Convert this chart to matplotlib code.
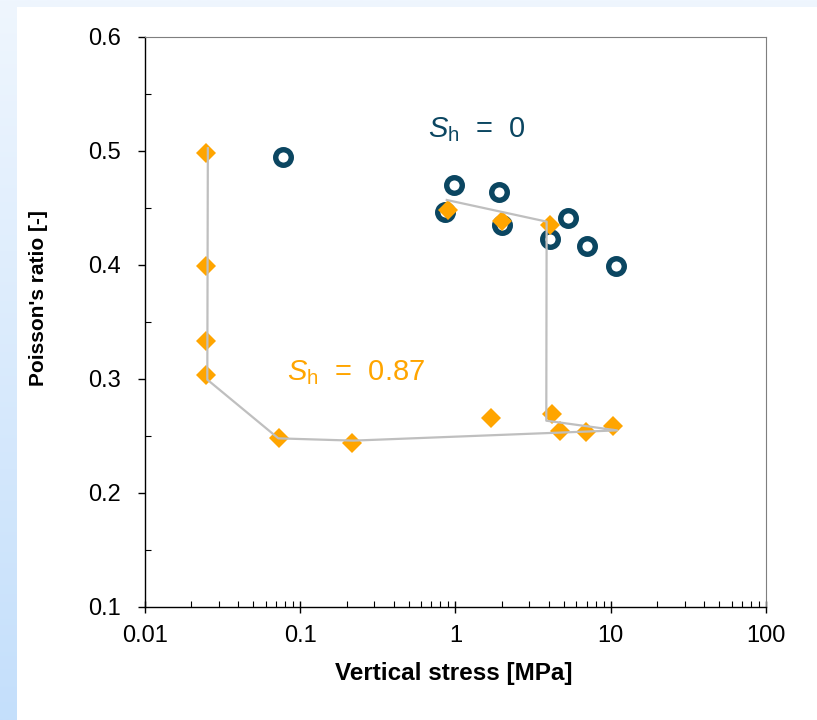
import numpy as np
import matplotlib
matplotlib.use("Agg")
import matplotlib.pyplot as plt
from matplotlib.patches import Rectangle
from matplotlib.ticker import LogLocator, FixedLocator, NullFormatter, FuncFormatter

plt.rcParams['font.family'] = ['Liberation Sans', 'DejaVu Sans']
plt.rcParams['mathtext.fontset'] = 'custom'
plt.rcParams['mathtext.rm'] = 'Liberation Sans'
plt.rcParams['mathtext.it'] = 'Liberation Sans:italic'

# Poisson's ratio vs vertical stress, Sh = 0 (open circles)
stress_sh0 = [0.078, 0.985, 1.92, 0.858, 1.99, 4.07, 5.29, 7.08, 10.8]
nu_sh0 = [0.494, 0.470, 0.464, 0.446, 0.435, 0.422, 0.441, 0.416, 0.399]

# Sh = 0.87 (filled diamonds)
stress_sh087 = [0.0248, 0.0248, 0.0248, 0.0248, 0.0736, 0.215, 1.70,
                0.902, 1.99, 4.07, 4.18, 4.72, 6.94, 10.3]
nu_sh087 = [0.4975, 0.399, 0.333, 0.303, 0.2475, 0.243, 0.265,
            0.448, 0.438, 0.435, 0.269, 0.254, 0.253, 0.258]

# Stress path for Sh = 0.87
path_stress = [0.0255, 0.0253, 0.0725, 0.22, 11.0, 3.85, 3.87, 0.88]
path_nu = [0.502, 0.299, 0.2475, 0.2455, 0.2545, 0.263, 0.4376, 0.4566]

x_ticks = [0.01, 0.1, 1, 10, 100]
x_tick_labels = ['0.01', '0.1', '1', '10', '100']
y_ticks = [0.1, 0.2, 0.3, 0.4, 0.5, 0.6]

navy = '#0b4661'
orange = '#ffa500'
grey = '#bfbfbf'

W, H = 817, 720
fig = plt.figure(figsize=(W / 100, H / 100), dpi=100)

# backdrop: pale blue gradient with a white panel
bg = fig.add_axes([0, 0, 1, 1], zorder=-10)
top_c = np.array([0xef, 0xf6, 0xfe]) / 255
bot_c = np.array([0xc4, 0xdf, 0xfb]) / 255
t = np.linspace(0, 1, 256)[:, None]
grad = top_c[None, :] * (1 - t) + bot_c[None, :] * t
bg.imshow(grad[:, None, :], aspect='auto', extent=[0, 1, 0, 1])
bg.add_patch(Rectangle((17 / W, 0), 1, 1 - 7 / H, color='white', lw=0))
bg.set_xlim(0, 1)
bg.set_ylim(0, 1)
bg.axis('off')

ax = fig.add_axes([144.7 / W, 1 - 606.5 / H, (766 - 144.7) / W, (606.5 - 36.5) / H])
ax.set_facecolor('none')

ax.plot(stress_sh0, nu_sh0, linestyle='none', marker='o', ms=11.2,
        mfc='none', mec=navy, mew=3.9, zorder=3)
ax.plot(stress_sh087, nu_sh087, linestyle='none', marker='D', ms=10,
        mfc=orange, mec='none', mew=0, zorder=4)
ax.plot(path_stress, path_nu, color=grey, lw=1.6, zorder=5)

ax.set_xscale('log')
ax.set_xlim(0.01, 100)
ax.set_ylim(0.1, 0.6)

ax.xaxis.set_major_locator(FixedLocator(x_ticks))
ax.xaxis.set_major_formatter(FuncFormatter(lambda v, p: x_tick_labels[x_ticks.index(v)] if v in x_ticks else ''))
ax.xaxis.set_minor_locator(LogLocator(base=10, subs=np.arange(2, 10)))
ax.xaxis.set_minor_formatter(NullFormatter())
ax.yaxis.set_major_locator(FixedLocator(y_ticks))
ax.yaxis.set_major_formatter(FuncFormatter(lambda v, p: f'{v:.1f}'))
ax.yaxis.set_minor_locator(FixedLocator([0.15, 0.25, 0.35, 0.45, 0.55]))

ax.tick_params(axis='x', which='major', direction='inout', length=9, width=1,
               labelsize=17, pad=9)
ax.tick_params(axis='x', which='minor', direction='in', length=4, width=0.8)
ax.tick_params(axis='y', which='major', direction='out', length=5, width=1,
               labelsize=17, pad=12)
ax.tick_params(axis='y', which='minor', direction='in', length=4, width=0.8)

for s in ('left', 'bottom'):
    ax.spines[s].set_color('black')
    ax.spines[s].set_linewidth(1.0)
for s in ('top', 'right'):
    ax.spines[s].set_color('#7f7f7f')
    ax.spines[s].set_linewidth(0.8)

ax.set_xlabel('Vertical stress [MPa]', fontsize=17.5, fontweight='bold', va='top')
ax.xaxis.set_label_coords(0.497, -0.0974)
ax.set_ylabel("Poisson's ratio [-]", fontsize=15, fontweight='bold', va='bottom')
ax.yaxis.set_label_coords(-0.1556, 0.541)

ax.text(0.667, 0.5116, r'$S_\mathrm{h}$' + '  =  0', color=navy, fontsize=21,
        va='baseline', ha='left')
ax.text(0.0825, 0.2987, r'$S_\mathrm{h}$' + '  =  0.87', color=orange, fontsize=21,
        va='baseline', ha='left')

fig.savefig('out.png', dpi=100)
